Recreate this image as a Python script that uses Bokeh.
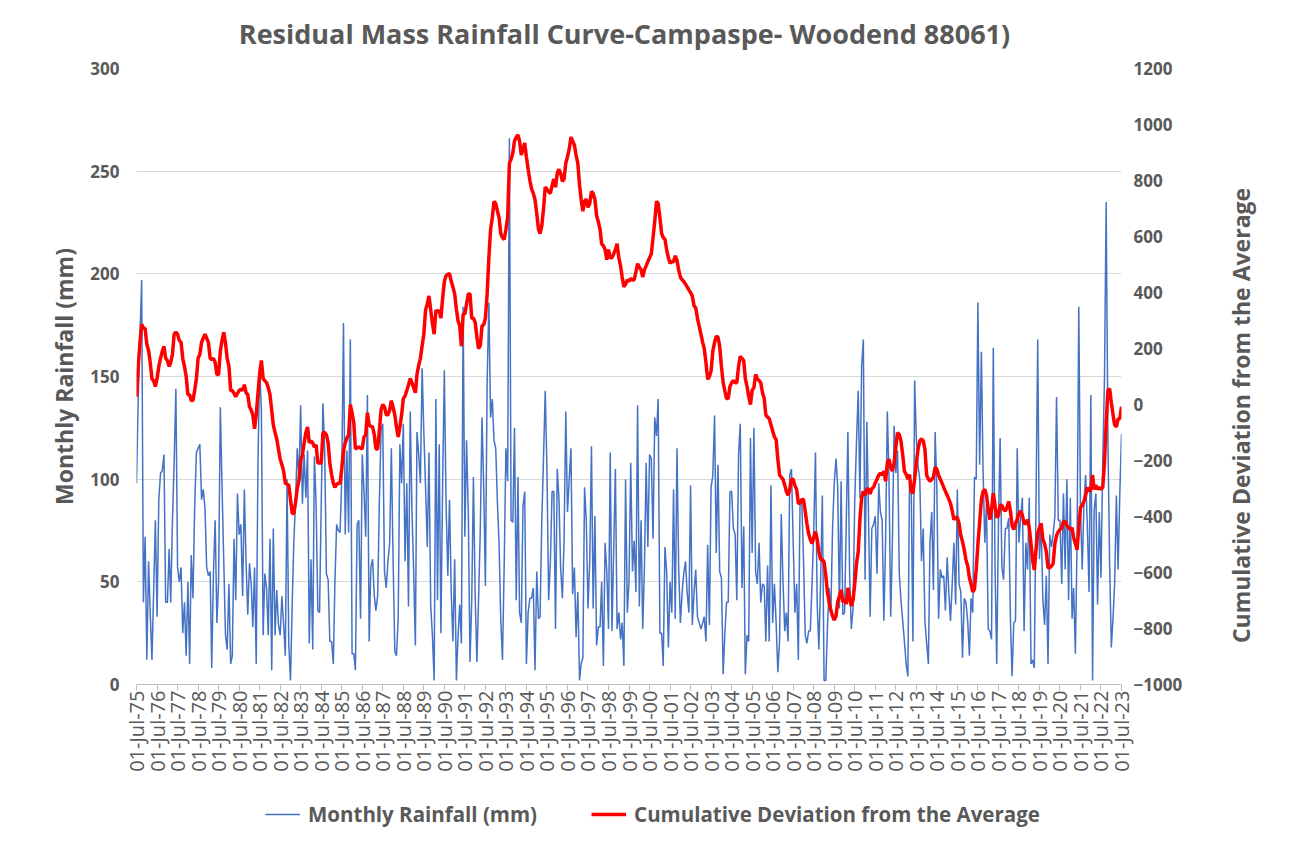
import numpy as np
import pandas as pd
from bokeh.plotting import figure
from bokeh.layouts import column, row
from bokeh.models import (Range1d, LinearAxis, FixedTicker, DatetimeTickFormatter,
                          Legend, LegendItem, ColumnDataSource, Label)
from bokeh.embed import file_html
from bokeh.resources import INLINE

# ---------------- data ----------------
start_month = "1975-07-01"

# Monthly rainfall (mm), one row per hydrological year (Jul..Jun), 1975-76 .. 2022-23
rain_rows = [
    [98, 140, 170, 197, 40, 72, 12, 60, 35, 12, 45, 80],
    [33, 90, 103, 104, 112, 40, 40, 66, 40, 80, 108, 144],
    [57, 50, 57, 25, 40, 14, 50, 10, 63, 42, 86, 113],
    [115, 117, 90, 95, 86, 57, 53, 55, 8, 55, 80, 30],
    [50, 135, 96, 60, 24, 17, 49, 10, 14, 71, 41, 93],
    [73, 78, 43, 95, 60, 34, 59, 49, 28, 57, 10, 108],
    [155, 133, 24, 54, 47, 24, 71, 7, 76, 24, 46, 29],
    [24, 43, 29, 14, 100, 20, 2, 40, 69, 90, 115, 100],
    [136, 88, 112, 91, 114, 20, 61, 17, 111, 88, 36, 35],
    [88, 137, 114, 54, 51, 21, 21, 10, 49, 78, 75, 74],
    [100, 176, 73, 114, 74, 168, 15, 15, 7, 78, 80, 32],
    [112, 94, 72, 141, 21, 57, 61, 43, 36, 43, 88, 124],
    [127, 55, 47, 60, 69, 115, 61, 16, 14, 32, 117, 98],
    [127, 60, 98, 38, 133, 86, 55, 19, 123, 112, 98, 154],
    [123, 96, 67, 113, 38, 24, 2, 139, 41, 117, 25, 98],
    [153, 88, 53, 90, 45, 21, 61, 2, 23, 39, 20, 184],
    [72, 119, 83, 11, 41, 101, 43, 11, 41, 75, 130, 96],
    [48, 147, 186, 130, 139, 119, 115, 88, 69, 31, 12, 59],
    [115, 99, 266, 80, 79, 125, 41, 101, 35, 30, 87, 94],
    [10, 35, 42, 42, 47, 7, 55, 32, 33, 80, 110, 143],
    [106, 41, 60, 94, 94, 27, 105, 90, 57, 42, 70, 133],
    [84, 100, 115, 44, 57, 23, 45, 2, 10, 13, 96, 80],
    [37, 60, 116, 37, 82, 19, 28, 28, 50, 9, 69, 55],
    [27, 113, 26, 65, 105, 27, 35, 22, 30, 9, 100, 35],
    [50, 108, 55, 70, 45, 136, 38, 80, 27, 57, 108, 67],
    [112, 110, 71, 130, 121, 139, 25, 25, 9, 67, 55, 18],
    [50, 35, 95, 32, 115, 57, 30, 45, 54, 60, 45, 35],
    [97, 29, 45, 56, 33, 30, 27, 30, 33, 21, 68, 29],
    [96, 102, 131, 64, 107, 55, 52, 5, 24, 40, 40, 94],
    [94, 76, 73, 41, 112, 127, 47, 77, 5, 24, 21, 120],
    [64, 125, 55, 49, 69, 40, 49, 48, 21, 58, 21, 97],
    [30, 49, 30, 6, 21, 83, 50, 26, 35, 21, 102, 105],
    [70, 35, 49, 12, 90, 90, 61, 24, 20, 26, 26, 49],
    [75, 113, 39, 17, 51, 92, 2, 2, 27, 47, 34, 76],
    [98, 110, 96, 37, 99, 34, 35, 80, 123, 53, 27, 37],
    [90, 118, 143, 91, 155, 168, 51, 128, 86, 33, 76, 78],
    [82, 54, 98, 84, 80, 31, 70, 133, 102, 33, 69, 126],
    [103, 114, 54, 41, 31, 21, 10, 4, 98, 96, 21, 148],
    [120, 106, 100, 60, 76, 31, 20, 10, 69, 84, 46, 123],
    [96, 32, 56, 52, 53, 36, 62, 44, 31, 49, 69, 39],
    [95, 49, 45, 13, 42, 40, 31, 14, 42, 35, 101, 100],
    [186, 107, 162, 104, 69, 88, 27, 26, 22, 164, 59, 10],
    [76, 120, 57, 51, 76, 76, 81, 31, 4, 30, 31, 115],
    [69, 82, 91, 26, 69, 56, 91, 10, 12, 8, 88, 168],
    [61, 78, 41, 29, 53, 10, 73, 67, 73, 82, 140, 80],
    [80, 49, 93, 56, 100, 41, 91, 32, 47, 15, 69, 184],
    [85, 56, 89, 102, 76, 45, 141, 2, 85, 93, 39, 84],
    [52, 108, 149, 235, 120, 60, 18, 33, 49, 92, 56, 93],
]
rain_final = 122  # Jul-2023

# Cumulative deviation from the average, same months
dev_rows = [
    [28, 136, 222, 287, 272, 272, 215, 193, 150, 92, 85, 64],
    [92, 136, 165, 190, 208, 165, 157, 136, 150, 179, 251, 258],
    [251, 229, 222, 165, 136, 100, 35, 35, 14, 14, 50, 92],
    [165, 179, 222, 237, 251, 237, 222, 165, 160, 165, 150, 107],
    [107, 190, 230, 258, 220, 165, 136, 50, 50, 40, 28, 40],
    [50, 55, 50, 71, 42, 35, -8, -20, -37, -87, -37, 40],
    [110, 157, 92, 85, 78, 60, 35, -22, -73, -100, -123, -160],
    [-195, -215, -238, -281, -285, -288, -339, -389, -389, -350, -300, -270],
    [-200, -180, -137, -100, -80, -137, -130, -137, -152, -144, -209, -209],
    [-209, -101, -100, -108, -137, -209, -250, -281, -296, -285, -281, -281],
    [-230, -166, -137, -120, -108, 0, -30, -65, -159, -155, -152, -155],
    [-159, -116, -108, -29, -73, -78, -80, -108, -159, -159, -94, -20],
    [0, -8, -37, -37, -20, 14, -10, -37, -80, -116, -80, -37],
    [21, 30, 50, 70, 93, 78, 60, 42, 107, 140, 165, 210],
    [251, 337, 360, 388, 337, 290, 251, 337, 330, 337, 308, 380],
    [438, 460, 465, 467, 440, 420, 395, 340, 300, 280, 208, 323],
    [323, 360, 395, 395, 308, 308, 294, 240, 200, 210, 280, 285],
    [308, 395, 524, 625, 668, 725, 718, 690, 668, 610, 596, 589],
    [625, 668, 862, 876, 898, 941, 955, 963, 941, 891, 912, 934],
    [884, 840, 800, 770, 754, 732, 682, 625, 610, 639, 697, 776],
    [769, 760, 754, 783, 805, 776, 826, 840, 826, 797, 805, 862],
    [884, 912, 955, 941, 927, 891, 862, 783, 733, 690, 726, 733],
    [704, 718, 761, 754, 733, 675, 653, 625, 574, 567, 553, 517],
    [553, 524, 524, 538, 553, 574, 524, 495, 455, 420, 430, 445],
    [440, 450, 445, 445, 474, 503, 490, 481, 455, 481, 495, 510],
    [524, 538, 596, 653, 725, 718, 668, 610, 596, 590, 553, 524],
    [505, 510, 510, 531, 515, 481, 455, 445, 440, 430, 420, 409],
    [400, 387, 352, 345, 308, 280, 251, 222, 200, 150, 90, 100],
    [120, 190, 222, 244, 240, 208, 136, 78, 50, 21, 21, 64],
    [78, 85, 78, 78, 136, 172, 165, 157, 93, 64, 28, 0],
    [50, 60, 107, 93, 85, 78, 42, 21, -37, -45, -51, -73],
    [-94, -116, -125, -195, -252, -260, -267, -288, -310, -324, -303, -267],
    [-267, -290, -303, -353, -353, -339, -339, -382, -425, -461, -482, -497],
    [-475, -454, -482, -526, -554, -554, -562, -612, -669, -705, -734, -756],
    [-770, -756, -705, -684, -662, -705, -698, -713, -655, -691, -720, -698],
    [-641, -569, -526, -411, -332, -310, -324, -303, -300, -320, -300, -296],
    [-280, -267, -252, -245, -252, -238, -274, -209, -195, -224, -238, -209],
    [-152, -101, -108, -130, -180, -238, -250, -267, -250, -310, -317, -267],
    [-209, -159, -130, -123, -130, -159, -252, -267, -274, -267, -260, -224],
    [-231, -252, -267, -281, -296, -310, -324, -339, -353, -380, -411, -404],
    [-404, -425, -468, -490, -519, -554, -576, -619, -641, -669, -660, -590],
    [-500, -420, -340, -310, -303, -324, -375, -411, -375, -317, -360, -404],
    [-396, -360, -360, -375, -380, -367, -346, -382, -432, -447, -425, -410],
    [-389, -380, -396, -425, -425, -411, -440, -497, -554, -591, -520, -460],
    [-440, -425, -482, -497, -526, -583, -583, -576, -569, -497, -468, -454],
    [-447, -440, -418, -418, -432, -440, -447, -440, -475, -497, -519, -440],
    [-368, -360, -346, -324, -296, -310, -303, -252, -303, -288, -303, -296],
    [-303, -296, -209, -65, 50, 57, 7, -37, -73, -80, -51, -51],
]
dev_final = -8  # Jul-2023

tick_years = list(range(1975, 2024))
left_ticks = [0, 50, 100, 150, 200, 250, 300]
right_ticks = [-1000, -800, -600, -400, -200, 0, 200, 400, 600, 800, 1000, 1200]

title_text = "Residual Mass Rainfall Curve-Campaspe- Woodend 88061)"
left_label = "Monthly Rainfall (mm)"
right_label = "Cumulative Deviation from the Average"
legend_labels = ["Monthly Rainfall (mm)", "Cumulative Deviation from the Average"]

# ---------------- build ----------------
rain = [v for row_ in rain_rows for v in row_] + [rain_final]
dev = [v for row_ in dev_rows for v in row_] + [dev_final]
dates = pd.date_range(start_month, periods=len(rain), freq="MS")
src = ColumnDataSource(dict(date=dates, rain=rain, dev=dev))

tick_dates = pd.to_datetime([f"{y}-07-01" for y in tick_years])
tick_ms = [float(t.value // 10**6) for t in tick_dates]

GREY = "#595959"
FONT = "Open Sans"
BLUE = "#4472C4"
RED = "#FF0000"

W_MAIN, W_SIDE = 1205, 83
H_TOP, H_MAIN, H_LEG = 54, 728, 60
BL, BR, BT, BB = 136, 84, 14, 98


def bare(fig):
    fig.axis.visible = False
    fig.grid.visible = False
    fig.outline_line_color = None
    return fig


# ---- title strip ----
t = bare(figure(width=W_MAIN, height=H_TOP, output_backend="svg", toolbar_location=None,
                x_range=Range1d(0, 1), y_range=Range1d(0, 1),
                min_border_left=0, min_border_right=0, min_border_top=0, min_border_bottom=0))
t.add_layout(Label(x=488, y=H_TOP - 33, x_units="screen", y_units="screen", text=title_text,
                   text_align="center", text_baseline="middle", text_font=FONT,
                   text_font_size="27px", text_font_style="bold", text_color=GREY))

# ---- main chart ----
p = figure(width=W_MAIN, height=H_MAIN, x_axis_type="datetime",
           output_backend="svg", toolbar_location=None,
           x_range=Range1d(tick_dates[0], tick_dates[-1]),
           y_range=Range1d(left_ticks[0], left_ticks[-1]),
           min_border_left=BL, min_border_right=BR,
           min_border_top=BT, min_border_bottom=BB)
p.extra_y_ranges = {"dev": Range1d(right_ticks[0], right_ticks[-1])}
p.outline_line_color = None
p.xgrid.visible = False
p.ygrid.grid_line_color = "#d9d9d9"
p.ygrid.grid_line_width = 1
p.ygrid.ticker = FixedTicker(ticks=left_ticks)

xa = p.xaxis[0]
xa.ticker = FixedTicker(ticks=tick_ms)
fmt = "%d-%b-%y"
xa.formatter = DatetimeTickFormatter(years=fmt, months=fmt, days=fmt, hours=fmt,
                                     hourmin=fmt, minutes=fmt, minsec=fmt,
                                     seconds=fmt, milliseconds=fmt, microseconds=fmt)
xa.major_label_orientation = np.pi / 2
xa.axis_line_color = "#bfbfbf"
xa.major_tick_line_color = "#bfbfbf"
xa.major_tick_in = 0
xa.major_tick_out = 6
xa.minor_tick_line_color = None
xa.major_label_text_font = FONT
xa.major_label_text_font_size = "20px"
xa.major_label_text_color = GREY
xa.major_label_standoff = 0

ya = p.yaxis[0]
ya.ticker = FixedTicker(ticks=left_ticks)
ya.axis_line_color = None
ya.major_tick_line_color = None
ya.minor_tick_line_color = None
ya.major_label_text_font = FONT
ya.major_label_text_font_size = "17px"
ya.major_label_text_font_style = "bold"
ya.major_label_text_color = GREY
ya.major_label_standoff = 11
ya.axis_label = left_label
ya.axis_label_text_font = FONT
ya.axis_label_text_font_size = "23px"
ya.axis_label_text_font_style = "bold"
ya.axis_label_text_color = GREY
ya.axis_label_standoff = 7

ra = LinearAxis(y_range_name="dev", ticker=FixedTicker(ticks=right_ticks))
ra.axis_line_color = None
ra.major_tick_line_color = None
ra.minor_tick_line_color = None
ra.major_label_text_font = FONT
ra.major_label_text_font_size = "17px"
ra.major_label_text_font_style = "bold"
ra.major_label_text_color = GREY
ra.major_label_standoff = 6
p.add_layout(ra, "right")

r_rain = p.line("date", "rain", source=src, line_color=BLUE, line_width=1.5)
r_dev = p.line("date", "dev", source=src, y_range_name="dev",
               line_color=RED, line_width=3.5)

# ---- legend strip ----
q = bare(figure(width=W_MAIN, height=H_LEG, output_backend="svg", toolbar_location=None,
                x_range=Range1d(0, 1), y_range=Range1d(0, 1),
                min_border_left=0, min_border_right=0, min_border_top=0, min_border_bottom=0))
k_rain = q.line("date", "rain", source=src, line_color=BLUE, line_width=1.5)
k_dev = q.line("date", "dev", source=src, line_color=RED, line_width=3.5)
legend = Legend(items=[LegendItem(label=legend_labels[0], renderers=[k_rain]),
                       LegendItem(label=legend_labels[1], renderers=[k_dev])],
                orientation="horizontal", location=(129, 14),
                border_line_color=None, background_fill_alpha=0,
                label_text_font=FONT, label_text_font_size="20.5px",
                label_text_font_style="bold", label_text_color=GREY,
                glyph_width=35, label_standoff=8, spacing=54, margin=0, padding=4)
q.add_layout(legend, "center")

# ---- right-hand axis title strip ----
H_ALL = H_TOP + H_MAIN + H_LEG
r = bare(figure(width=W_SIDE, height=H_ALL, output_backend="svg", toolbar_location=None,
                x_range=Range1d(0, 1), y_range=Range1d(0, 1),
                min_border_left=0, min_border_right=0, min_border_top=0, min_border_bottom=0))
r.add_layout(Label(x=35, y=H_ALL - 415, x_units="screen", y_units="screen",
                   text=right_label, angle=np.pi / 2, text_align="center",
                   text_baseline="middle", text_font=FONT, text_font_size="23px",
                   text_font_style="bold", text_color=GREY))

layout = row(column(t, p, q, spacing=0), r, spacing=0)
html = file_html(layout, INLINE)
open("out.html", "w").write(html)
